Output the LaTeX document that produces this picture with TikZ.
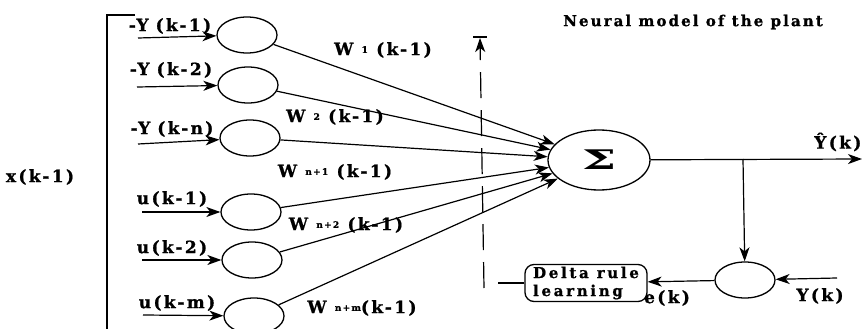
\documentclass[tikz,border=0pt]{standalone}
\usepackage{fontspec}
\setmainfont{DejaVu Serif}
\usepackage{graphicx}
\usetikzlibrary{arrows.meta,shapes.geometric}
\newcommand\labfont{\fontsize{17}{20}\selectfont\bfseries\addfontfeature{LetterSpace=14,FakeBold=1}}
\newcommand\titlefont{\fontsize{15}{18}\selectfont\bfseries\addfontfeature{LetterSpace=14,FakeBold=1}}
\newcommand\boxfont{\fontsize{15}{18}\selectfont\bfseries\addfontfeature{LetterSpace=18,FakeBold=1}}
\newcommand\wsub[1]{\raisebox{0.25ex}{\fontsize{9}{9}\selectfont\bfseries #1}}
\newcommand\ysp{\hspace{7pt}}
\begin{document}
\begin{tikzpicture}[x=1pt,y=-1pt, line width=1.2pt,
  neuron/.style={ellipse,draw,line width=1.3pt,minimum width=60pt,minimum height=36pt,inner sep=0pt},
  lab/.style={font=\labfont, inner sep=0pt},
  arr/.style={-{Stealth[length=14pt,width=10pt,inset=4pt]}},
]
\useasboundingbox (0,0) rectangle (863,329);
% input neurons
\node[neuron] (e1) at (247,35) {};
\node[neuron] (e2) at (248,85) {};
\node[neuron] (e3) at (250,138) {};
\node[neuron] (e4) at (251,212) {};
\node[neuron] (e5) at (252,260) {};
\node[neuron] (e6) at (254,316) {};
% summation
\node[ellipse,draw,line width=1.3pt,minimum width=102pt,minimum height=60pt,inner sep=0pt] (sum) at (599,160)
  {\scalebox{1.8}[1]{\fontsize{27}{30}\selectfont\bfseries Σ}};
% error neuron
\node[neuron] (err) at (745,280) {};
% delta box
\node[draw,line width=1.3pt,rounded corners=9pt,minimum width=122pt,minimum height=37pt,align=left,inner sep=0pt,font=\boxfont] (delta) at (586,283) {Delta rule\\learning};
% labels
\node[lab] (l1) at (170,26) {-Y\ysp(k-1)};
\node[lab] (l2) at (171,70) {-Y\ysp(k-2)};
\node[lab] (l3) at (172,129) {-Y\ysp(k-n)};
\node[lab] (l4) at (172,199) {u(k-1)};
\node[lab] (l5) at (172,248) {u(k-2)};
\node[lab] (l6) at (177,303) {u(k-m)};
\node[lab] (xl) at (40,177) {x(k-1)};
\node[inner sep=0pt,font=\titlefont] (title) at (693,22) {Neural model of the plant};
\node[lab] (w1) at (383,50) {W \wsub{1} (k-1)};
\node[lab] (w2) at (335,117) {W \wsub{2} (k-1)};
\node[lab] (w3) at (335,172) {W \wsub{n+1} (k-1)};
\node[lab] (w4) at (346,225) {W \wsub{n+2} (k-1)};
\node[lab] (w5) at (362,308) {W \wsub{n+m}(k-1)};
\node[lab,anchor=east] (yhat) at (862,142) {Ŷ(k)};
\node[lab] (yk) at (820,296) {Y(k)};
\node[lab] (ek) at (667,298) {e(k)};
% bracket
\coordinate (bt) at (135,15);
\coordinate (bc) at (107,15);
\coordinate (bb) at (107,330);
\draw (bt) -- (bc) -- (bb);
% input arrows
\coordinate (a1) at (138,38);
\coordinate (a2) at (137,87);
\coordinate (a3) at (138,144);
\coordinate (a4) at (142,212);
\coordinate (a5) at (142,260);
\coordinate (a6) at (143,315);
\draw[arr] (a1) -- (e1);
\draw[arr] (a2) -- (e2);
\draw[arr] (a3) -- (e3);
\draw[arr] (a4) -- (e4);
\draw[arr] (a5) -- (e5);
\draw[arr] (a6) -- (e6);
% weighted connections
\draw[arr] (e1) -- (sum);
\draw[arr] (e2) -- (sum);
\draw[arr] (e3) -- (sum);
\draw[arr] (e4) -- (sum);
\draw[arr] (e5) -- (sum);
\draw[arr] (e6) -- (sum);
% output
\coordinate (out) at (862,159);
\draw[arr] (sum) -- (out);
\coordinate (br) at (743,159);
\draw[arr] (br) -- (err);
\coordinate (yin) at (837,278);
\draw[arr] (yin) -- (err);
\draw[arr] (err) -- (delta);
\coordinate (dl) at (498,283);
\draw (delta.west) -- (dl);
% adaptation arrow
\coordinate (dbot) at (484,288);
\coordinate (dtop) at (480,38);
\draw[dash pattern=on 26pt off 12pt, arr] (dbot) -- (dtop);
\coordinate (barl) at (473,37);
\coordinate (barr) at (487,37);
\draw (barl) -- (barr);
\end{tikzpicture}
\end{document}
